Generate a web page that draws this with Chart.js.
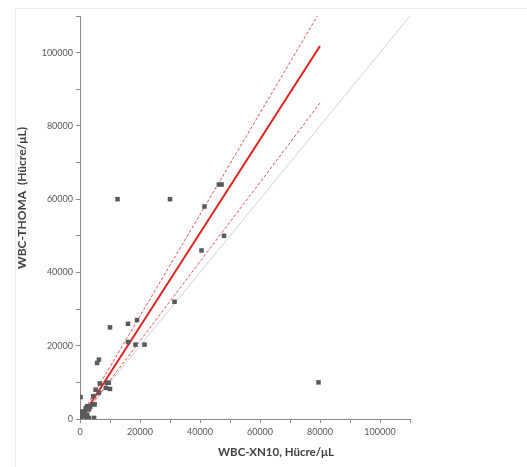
<!DOCTYPE html>
<html>
<head>
<meta charset="utf-8">
<script src="https://cdn.jsdelivr.net/npm/chart.js@4.4.1/dist/chart.umd.min.js"></script>
<style>
    html, body { margin: 0; padding: 0; background: #fff; }
    #frame {
        position: absolute; left: 15px; top: 8px; right: 0; bottom: 0;
        border-left: 1px solid #ececec; border-top: 1px solid #ececec;
    }
    #wrap { position: absolute; left: 0; top: 0; width: 527px; height: 467px; }
</style>
</head>
<body>
<div id="frame"></div>
<div id="wrap"><canvas id="wbcChart"></canvas></div>
<script>
// Données : WBC-XN10 (x) contre WBC-THOMA (y), en cellules/µL
const xn10Values = [12500, 30000, 41500, 46300, 47200, 40500, 48000, 31500, 16000, 19000,
    10000, 16000, 18500, 21500, 5700, 6300, 6600, 8900, 9600, 8600,
    10000, 79500, 200, 4400, 5200, 6300, 4900, 4100, 2400, 3000,
    1300, 1900, 800, 200, 0, 3000, 4700, 200, 2400, 1300,
    600, 1600, 3400, 2000];
const thomaValues = [60000, 60000, 58000, 64000, 64000, 46000, 50000, 32000, 26000, 27000,
    25000, 21000, 20300, 20300, 15300, 16200, 9700, 9900, 9900, 8500,
    8200, 10000, 6000, 6200, 8000, 7200, 4000, 4000, 3500, 2600,
    2100, 3000, 800, 300, 100, 300, 300, 1200, 1200, 1200,
    2000, 1600, 3300, 400];

// Droite de régression et intervalle de confiance
const fitX = [0, 80000];
const fitY = [-270, 101800];
const upperY = [400, 111200];
const lowerY = [-330, 86230];

// Droite d'identité y = x
const identityX = [0, 110000];
const identityY = [0, 110000];

// Axes
const axisMax = 110000;
const tickStep = 10000;
const labelStep = 20000;
const labelMax = 100000;

const xTitle = 'WBC-XN10, Hücre/μL';
const yTitle = 'WBC-THOMA  (Hücre/μL)';

function toPoints(xs, ys) {
    return xs.map((x, i) => ({ x: x, y: ys[i] }));
}

function tickLabel(value) {
    return (value % labelStep === 0 && value <= labelMax) ? String(value) : '';
}

// Titres d'axes dessinés à la main pour caler leur position
const axisTitles = {
    id: 'axisTitles',
    afterDraw(chart) {
        const ctx = chart.ctx;
        ctx.save();
        ctx.fillStyle = '#404040';
        ctx.textAlign = 'center';
        ctx.textBaseline = 'middle';
        ctx.font = 'bold 11.5px Lato';
        ctx.fillText(xTitle, 276, 452);
        ctx.translate(22, 198);
        ctx.rotate(-Math.PI / 2);
        ctx.font = 'bold 12px Lato';
        ctx.fillText(yTitle, 0, 0);
        ctx.restore();
    }
};

const axisColor = '#8c8c8c';
const tickFont = { family: 'Lato', size: 9 };

const chartConfig = {
    type: 'scatter',
    data: {
        datasets: [
            {
                data: toPoints(xn10Values, thomaValues),
                pointStyle: 'rect',
                pointRadius: 3.2,
                pointBackgroundColor: '#5a5a5a',
                pointBorderWidth: 0,
                showLine: false
            },
            {
                data: toPoints(fitX, fitY),
                showLine: true,
                borderColor: '#e0211d',
                borderWidth: 2,
                pointRadius: 0
            },
            {
                data: toPoints(fitX, upperY),
                showLine: true,
                borderColor: '#e4504c',
                borderWidth: 1,
                borderDash: [3, 2],
                pointRadius: 0
            },
            {
                data: toPoints(fitX, lowerY),
                showLine: true,
                borderColor: '#e4504c',
                borderWidth: 1,
                borderDash: [3, 2],
                pointRadius: 0
            },
            {
                data: toPoints(identityX, identityY),
                showLine: true,
                borderColor: '#d2d2d8',
                borderWidth: 1,
                pointRadius: 0
            }
        ]
    },
    options: {
        responsive: true,
        maintainAspectRatio: false,
        animation: false,
        layout: { padding: { left: 0, right: 117, top: 16, bottom: 0 } },
        scales: {
            x: {
                min: 0, max: axisMax,
                border: { color: axisColor, width: 1 },
                grid: { drawOnChartArea: false, tickLength: 4, color: axisColor },
                ticks: {
                    stepSize: tickStep, autoSkip: false, maxRotation: 0,
                    padding: 4, color: '#595959', font: tickFont,
                    callback: tickLabel
                },
                afterFit: (scale) => { scale.height = 48; }
            },
            y: {
                min: 0, max: axisMax,
                border: { color: axisColor, width: 1 },
                grid: { drawOnChartArea: false, tickLength: 4, color: axisColor },
                ticks: {
                    stepSize: tickStep, autoSkip: false,
                    padding: 3, color: '#595959', font: tickFont,
                    callback: tickLabel
                },
                afterFit: (scale) => { scale.width = 80; }
            }
        },
        plugins: {
            legend: { display: false },
            tooltip: { enabled: false }
        }
    },
    plugins: [axisTitles]
};

const chart = new Chart(document.getElementById('wbcChart'), chartConfig);
</script>
</body>
</html>
